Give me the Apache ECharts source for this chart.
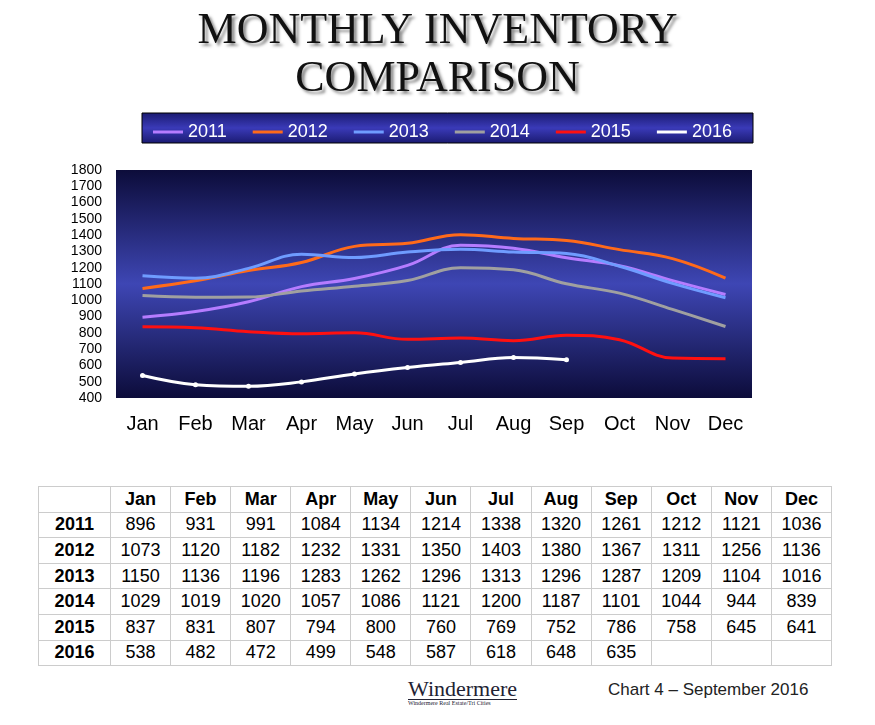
<!DOCTYPE html>
<html>
<head>
  <meta charset="utf-8">
  <title></title>
  <script src="https://cdn.jsdelivr.net/npm/echarts@6/dist/echarts.min.js"></script>
  <style>
    body { margin: 0; background: #fff; font-family: "Liberation Sans", Arial, sans-serif; }
    #main { position: absolute; left: 0; top: 0; width: 875px; height: 470px; }
    #tbl { position: absolute; left: 38px; top: 486px; border-collapse: collapse; table-layout: fixed; width: 794px; }
    #tbl td { border: 1px solid #ccc; height: 24.6px; padding: 0; text-align: center; font-size: 18px; color: #000; }
    #tbl td:first-child { width: 71px; font-weight: bold; }
    #tbl tr:first-child td { font-weight: bold; }
    #logo { position: absolute; left: 408px; top: 676px; font-family: "Liberation Serif", serif; font-size: 22px; color: #223; }
    #logo small { display: block; font-size: 6px; margin-top: -3px; border-top: 1px solid #223; }
    #foot { position: absolute; left: 608px; top: 680px; font-size: 17px; color: #222; }
  </style>
</head>
<body>
  <div id="main"></div>
  <table id="tbl"></table>
  <div id="logo">Windermere<small>Windermere Real Estate/Tri Cities</small></div>
  <div id="foot">Chart 4 – September 2016</div>
  <script>
    var months = ['Jan', 'Feb', 'Mar', 'Apr', 'May', 'Jun', 'Jul', 'Aug', 'Sep', 'Oct', 'Nov', 'Dec'];
    var years = ['2011', '2012', '2013', '2014', '2015', '2016'];
    var v2011 = [896, 931, 991, 1084, 1134, 1214, 1338, 1320, 1261, 1212, 1121, 1036];
    var v2012 = [1073, 1120, 1182, 1232, 1331, 1350, 1403, 1380, 1367, 1311, 1256, 1136];
    var v2013 = [1150, 1136, 1196, 1283, 1262, 1296, 1313, 1296, 1287, 1209, 1104, 1016];
    var v2014 = [1029, 1019, 1020, 1057, 1086, 1121, 1200, 1187, 1101, 1044, 944, 839];
    var v2015 = [837, 831, 807, 794, 800, 760, 769, 752, 786, 758, 645, 641];
    var v2016 = [538, 482, 472, 499, 548, 587, 618, 648, 635];
    var values = [v2011, v2012, v2013, v2014, v2015, v2016];
    var colors = ['#b57cff', '#ff6a1a', '#6f9cff', '#a0a0a0', '#ff1010', '#ffffff'];

    // table
    var html = '<tr><td></td>' + months.map(function (m) { return '<td>' + m + '</td>'; }).join('') + '</tr>';
    years.forEach(function (y, i) {
      html += '<tr><td>' + y + '</td>';
      for (var j = 0; j < 12; j++) html += '<td>' + (values[i][j] !== undefined ? values[i][j] : '') + '</td>';
      html += '</tr>';
    });
    document.getElementById('tbl').innerHTML = html;

    var myChart = echarts.init(document.getElementById('main'));
    var option = {
      title: {
        text: 'MONTHLY INVENTORY\nCOMPARISON',
        left: 'center', top: 2,
        textStyle: {
          fontFamily: 'Liberation Serif', fontSize: 44, fontWeight: 'normal', color: '#111',
          lineHeight: 48, textShadowColor: 'rgba(0,0,0,0.45)', textShadowBlur: 3, textShadowOffsetX: 3, textShadowOffsetY: 3
        }
      },
      graphic: [{
        type: 'rect', shape: { x: 142, y: 113, width: 611, height: 30 },
        style: {
          stroke: '#000', lineWidth: 1,
          fill: { type: 'linear', x: 0, y: 0, x2: 0, y2: 1, colorStops: [
            { offset: 0, color: '#1a1a70' }, { offset: 0.5, color: '#3a3ab8' }, { offset: 1, color: '#1a1a70' }] }
        }
      }],
      legend: {
        top: 118, left: 148, itemWidth: 30, itemGap: 26, icon: 'rect', itemHeight: 3,
        textStyle: { color: '#fff', fontSize: 18 },
        data: years
      },
      grid: {
        left: 116, right: 123, top: 170, bottom: 72, show: true, borderWidth: 0,
        backgroundColor: { type: 'linear', x: 0, y: 0, x2: 0, y2: 1, colorStops: [
          { offset: 0, color: '#0c0c3a' }, { offset: 0.5, color: '#3e46b4' }, { offset: 1, color: '#0c0c3a' }] }
      },
      xAxis: {
        type: 'category', data: months, boundaryGap: true,
        axisLine: { show: false }, axisTick: { show: false },
        axisLabel: { color: '#000', fontSize: 20, margin: 16 }
      },
      yAxis: {
        type: 'value', min: 400, max: 1800, interval: 100,
        splitLine: { show: false }, axisLine: { show: false }, axisTick: { show: false },
        axisLabel: { color: '#000', fontSize: 14, margin: 14, formatter: function (v) { return String(v); } }
      },
      series: years.map(function (y, i) {
        return {
          name: y, type: 'line', data: values[i], smooth: 0.4,
          showSymbol: i === 5, symbol: 'circle', symbolSize: 5,
          lineStyle: { width: 3, color: colors[i] },
          itemStyle: { color: colors[i] }
        };
      })
    };
    myChart.setOption(option);
  </script>
</body>
</html>
